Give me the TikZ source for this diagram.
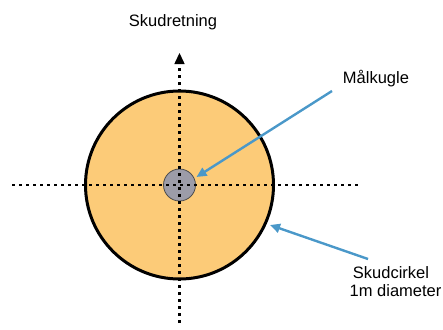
\documentclass[tikz,border=0pt]{standalone}
\usepackage{fontspec}
\setmainfont{Liberation Sans}
\usetikzlibrary{arrows.meta}
\definecolor{discfill}{HTML}{FCCB78}
\definecolor{ballfill}{HTML}{9C9CA8}
\definecolor{pointer}{HTML}{4A98C9}
\tikzset{
  dotline/.style={line width=2.6pt, dash pattern=on 2.6pt off 4.4pt},
  label/.style={font=\fontsize{16.5}{19}\selectfont, inner sep=0pt, align=center},
  pointerline/.style={draw=pointer, line width=2.4pt, -{Triangle[length=10pt,width=9pt]}}
}
\begin{document}
\begin{tikzpicture}[x=1pt,y=-1pt]
\useasboundingbox (0,0) rectangle (443,329);
\coordinate (c) at (179.5,185);
\node[circle, draw=black, line width=3pt, fill=discfill, minimum size=188pt, inner sep=0pt] (disc) at (c) {};
\node[circle, draw=black!70, line width=0.8pt, fill=ballfill, minimum size=32pt, inner sep=0pt] (ball) at (c) {};
\coordinate (hl) at (12,185);
\coordinate (hr) at (358,185);
\coordinate (vb) at (179.5,323);
\coordinate (vt) at (179.5,62);
\coordinate (tip) at (179.5,53);
\draw[dotline] (hl) -- (hr);
\draw[dotline] (vb) -- (vt);
\fill (tip) -- (174.3,64) -- (184.7,64) -- cycle;
\node[label] (skud) at (173,22) {Skudretning};
\node[label] (maal) at (376,79) {Målkugle};
\node[label, align=center] (cirk) at (391,282) {Skudcirkel\\[-1pt]\ \ 1m diameter};
\coordinate (m1) at (332,91);
\coordinate (c1) at (368,259);
\draw[pointerline] (m1) -- (196.5,177);
\draw[pointerline] (c1) -- (270,225);
\end{tikzpicture}
\end{document}
